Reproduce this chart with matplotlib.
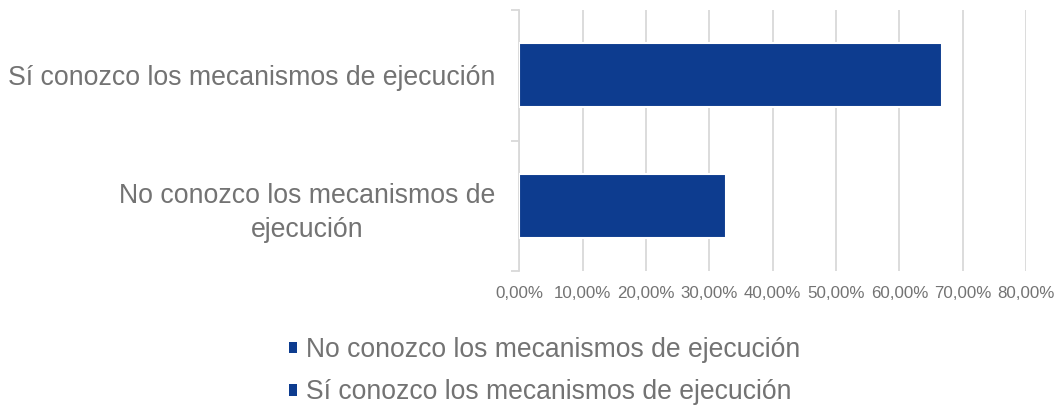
import matplotlib
matplotlib.use("Agg")
import matplotlib.pyplot as plt
from matplotlib.ticker import FuncFormatter, FixedLocator
from matplotlib.patches import Patch

plt.rcParams['font.family'] = ['Liberation Sans', 'DejaVu Sans']

categories = ["No conozco los mecanismos de\nejecución", "Sí conozco los mecanismos de ejecución"]
series_names = ["No conozco los mecanismos de ejecución", "Sí conozco los mecanismos de ejecución"]
values = [0.327, 0.667]
xticks = [0.0, 0.1, 0.2, 0.3, 0.4, 0.5, 0.6, 0.7, 0.8]

bar_color = "#0d3c8f"
text_color = "#737373"
grid_color = "#d9d9d9"

W, H = 1059, 409
fig = plt.figure(figsize=(W / 100, H / 100), dpi=100)
ax = fig.add_axes([519.3 / W, 1 - 271 / H, (1026 - 519.3) / W, (271 - 10) / H])

positions = list(range(len(categories)))
for pos, val, name in zip(positions, values, series_names):
    ax.barh(pos, val, height=0.49, color=bar_color, edgecolor="white", linewidth=1.5,
            label=name, zorder=3)

ax.set_xlim(0, 0.8)
ax.set_ylim(-0.5, 1.5)
ax.xaxis.set_major_locator(FixedLocator(xticks))
ax.xaxis.set_major_formatter(FuncFormatter(lambda v, p: f"{v*100:.2f}%".replace(".", ",")))
ax.grid(axis="x", color=grid_color, linewidth=1.3, zorder=0)
ax.set_axisbelow(True)

ax.set_yticks(positions)
ax.set_yticklabels(categories, multialignment="center", linespacing=1.4)
ax.set_yticks([-0.5, 0.5, 1.5], minor=True)
ax.tick_params(axis="y", which="major", length=0, pad=17.5, labelsize=19.2, labelcolor=text_color)
ax.tick_params(axis="y", which="minor", length=6, width=1.3, color=grid_color, direction="out")
ax.tick_params(axis="x", which="major", length=0, pad=11, labelsize=12.2, labelcolor=text_color)

for s in ["top", "right", "bottom"]:
    ax.spines[s].set_visible(False)
ax.spines["left"].set_color(grid_color)
ax.spines["left"].set_linewidth(1.3)

legend_handles = [Patch(facecolor=bar_color, edgecolor="none") for _ in series_names]
fig.legend(legend_handles, series_names, loc="upper left", bbox_to_anchor=(289 / W, 1 - 337 / H),
           frameon=False, borderpad=0, borderaxespad=0, handlelength=0.29, handleheight=0.29,
           handletextpad=0.35, labelspacing=0.62, fontsize=19.1, labelcolor=text_color)

fig.savefig("out.png", dpi=100)
